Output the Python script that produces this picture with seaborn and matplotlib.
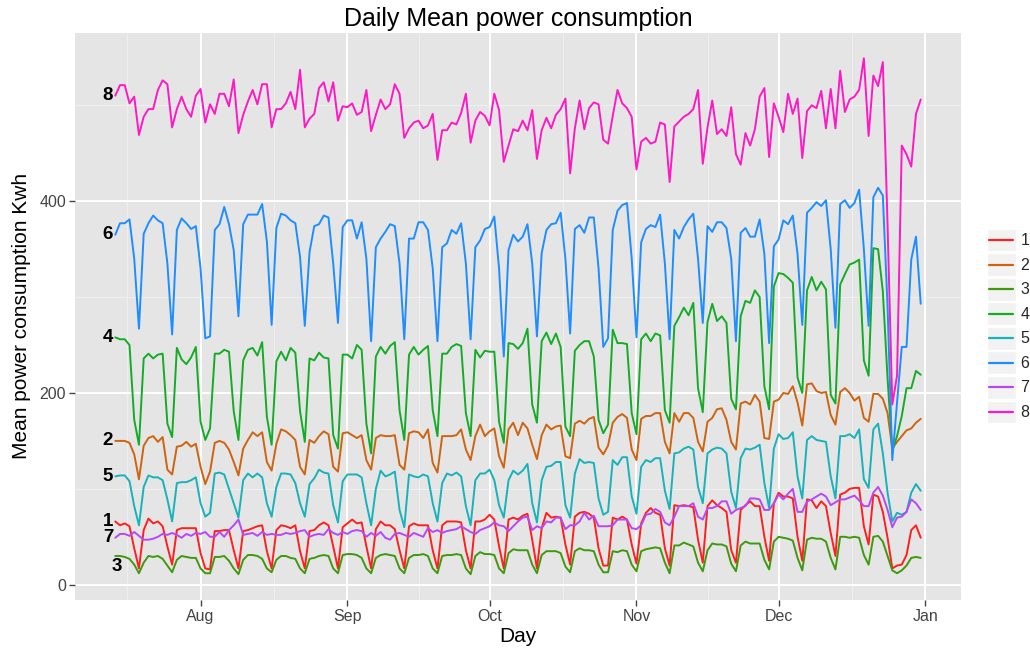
import numpy as np
import pandas as pd
import matplotlib
matplotlib.use("Agg")
import matplotlib.pyplot as plt
import matplotlib.dates as mdates
import seaborn as sns
from matplotlib.legend_handler import HandlerBase
from matplotlib.patches import Rectangle
from matplotlib.lines import Line2D

# ---------------------------------------------------------------- data
days = pd.date_range("2009-07-14", "2009-12-31", freq="D")

s1 = [66, 62, 64, 61, 38, 17, 57, 69, 64, 66, 61, 40, 21, 57, 59, 59, 59, 59, 33, 17, 16,
      56, 56, 57, 57, 36, 17, 56, 57, 59, 61, 62, 35, 17, 57, 62, 61, 59, 62, 35, 17,
      56, 57, 62, 65, 62, 40, 17, 60, 64, 68, 64, 65, 40, 17, 58, 66, 62, 62, 58, 36, 17,
      61, 64, 62, 62, 62, 36, 17, 62, 66, 66, 66, 65, 36, 17, 66, 66, 68, 73, 68, 40, 17,
      68, 70, 68,
      72, 74, 47, 17, 59, 75, 70, 71, 70, 42, 21, 71, 75, 76, 74, 70, 38, 20, 20, 70, 68,
      71, 68, 42, 22, 64, 75, 80, 75, 73, 38, 20, 83, 82, 83, 82, 81, 47, 23, 82, 88, 83,
      80, 76, 36,
      23, 78, 83, 87, 82, 82, 50, 25, 85, 96, 92, 92, 90, 50, 25, 89, 88, 80, 87, 82, 54,
      30, 94, 96, 100, 101, 101, 61, 42, 94, 92, 76, 49, 17, 20, 21, 31, 57, 62, 49]

s2 = [150, 150, 150, 148, 136, 110, 145, 153, 155, 149, 154, 120, 115, 144, 145, 149, 144,
      147, 123, 105, 118, 148, 150, 148, 141, 128, 114, 142, 151, 159, 155, 159, 128, 119,
      147, 162, 160, 156, 151, 123, 115,
      151, 148, 155, 160, 157, 123, 118, 158, 159, 156, 153, 156, 130, 120, 153, 156, 155,
      155, 156, 125, 120, 158, 160, 159, 153, 162, 127, 117, 155, 155, 155, 156, 162, 141,
      130, 155, 167, 155, 160, 163, 134, 122, 162, 169, 156,
      169, 163, 146, 131, 156, 167, 162, 165, 166, 134, 132, 168, 171, 168, 173, 175, 143,
      136, 145, 169, 175, 178, 174, 141, 130, 173, 176, 176, 179, 179, 149, 137, 179, 170,
      179, 179, 174, 149, 139, 170, 174, 183, 184, 172, 149,
      141, 189, 191, 188, 198, 191, 153, 152, 191, 193, 200, 199, 207, 190, 166, 209, 210,
      202, 200, 201, 177, 167, 201, 205, 200, 192, 196, 174, 170, 199, 199, 194, 179, 142,
      149, 155, 161, 163, 169, 173]

s3 = [30, 30, 29, 27, 21, 12, 23, 30, 29, 30, 27, 20, 13, 26, 30, 29, 28, 28, 17, 12, 12,
      29, 29, 30, 25, 17, 11, 26, 31, 31, 30, 27, 17, 13, 26, 30, 30, 28, 27, 17, 12,
      27, 28, 30, 31, 30, 17, 12, 31, 32, 32, 31, 28, 17, 12, 28, 31, 32, 31, 30, 17, 12,
      28, 31, 31, 32, 30, 17, 12, 30, 31, 31, 32, 31, 17, 11, 30, 34, 32, 32, 31, 17, 12,
      33, 37, 36,
      36, 36, 21, 12, 31, 35, 35, 35, 33, 19, 13, 35, 38, 36, 36, 35, 21, 13, 13, 35, 34,
      36, 35, 21, 14, 35, 37, 38, 39, 38, 23, 12, 41, 41, 44, 42, 40, 23, 14, 36, 43, 42,
      42, 40, 22,
      14, 41, 45, 43, 43, 43, 26, 16, 45, 50, 49, 48, 46, 28, 15, 47, 49, 48, 48, 45, 28,
      16, 50, 50, 49, 50, 49, 31, 21, 50, 51, 45, 30, 15, 12, 15, 20, 28, 29, 28]

s4 = [258, 256, 256, 250, 172, 146, 236, 241, 236, 240, 241, 168, 154, 247, 235, 230, 237,
      248, 170, 151, 163, 241, 241, 245, 243, 181, 151, 234, 245, 247, 239, 253, 175, 146,
      233, 243, 234, 247, 242, 181, 149,
      236, 234, 242, 237, 236, 156, 142, 240, 240, 236, 250, 245, 168, 137, 238, 248, 241,
      249, 253, 182, 151, 240, 248, 240, 245, 249, 182, 155, 241, 241, 248, 251, 249, 179,
      155, 245, 237, 244, 243, 243, 170, 148, 252, 251, 246,
      252, 267, 188, 169, 254, 263, 251, 262, 248, 165, 155, 244, 250, 254, 254, 238, 172,
      158, 167, 266, 252, 252, 251, 179, 157, 256, 262, 254, 262, 260, 182, 169, 270, 279,
      289, 281, 294, 205, 180, 274, 293, 275, 280, 273, 194,
      183, 280, 296, 294, 307, 300, 207, 183, 311, 325, 324, 320, 315, 216, 200, 307, 321,
      307, 316, 308, 198, 189, 313, 324, 334, 336, 339, 234, 218, 351, 350, 306, 215, 140,
      155, 176, 205, 205, 223, 219]

s5 = [113, 114, 114, 108, 82, 62, 102, 114, 112, 112, 109, 89, 66, 106, 107, 107, 109, 112,
      85, 71, 75, 116, 117, 115, 100, 85, 70, 109, 116, 112, 116, 112, 85, 71, 102, 116,
      116, 115, 106, 85, 71,
      105, 111, 120, 117, 116, 83, 65, 108, 115, 115, 115, 112, 85, 62, 100, 119, 113, 115,
      118, 78, 60, 115, 113, 112, 115, 113, 85, 66, 106, 116, 114, 117, 113, 82, 62, 109,
      116, 116, 120, 109, 83, 70, 109, 119, 115,
      119, 126, 85, 65, 109, 123, 124, 128, 128, 83, 70, 116, 131, 127, 128, 127, 90, 73,
      76, 130, 125, 133, 133, 92, 74, 123, 130, 128, 132, 132, 98, 79, 137, 138, 142, 144,
      141, 102, 85, 137, 141, 143, 142, 137, 97,
      80, 132, 142, 141, 143, 146, 106, 80, 142, 157, 152, 153, 159, 113, 90, 151, 155, 151,
      150, 149, 113, 90, 155, 155, 157, 153, 162, 110, 101, 162, 168, 137, 96, 66, 75, 73,
      76, 96, 105, 98]

s6 = [365, 377, 377, 381, 340, 267, 366, 377, 385, 380, 377, 335, 261, 370, 382, 377, 371,
      374, 330, 257, 259, 370, 376, 394, 376, 349, 280, 376, 386, 386, 386, 397, 358, 271,
      372, 387, 385, 380, 377, 342, 270,
      347, 374, 376, 385, 383, 335, 273, 373, 380, 380, 361, 378, 340, 254, 352, 361, 368,
      376, 374, 335, 256, 361, 361, 378, 378, 370, 330, 254, 352, 356, 370, 366, 377, 335,
      256, 352, 359, 371, 373, 384, 330, 238, 349, 365, 358,
      363, 376, 335, 259, 346, 370, 376, 377, 388, 340, 262, 371, 375, 367, 383, 383, 330,
      248, 257, 370, 390, 396, 398, 340, 258, 357, 371, 375, 373, 386, 335, 256, 370, 361,
      373, 381, 387, 340, 273, 374, 368, 378, 378, 372, 340,
      254, 367, 372, 363, 363, 381, 345, 252, 353, 360, 380, 376, 385, 345, 271, 388, 393,
      399, 395, 401, 350, 268, 397, 401, 393, 398, 412, 350, 270, 404, 414, 406, 290, 130,
      190, 248, 248, 339, 363, 293]

s7 = [49, 53, 53, 51, 55, 51, 47, 47, 48, 50, 53, 52, 54, 52, 49, 53, 51, 54, 53, 55, 50,
      50, 55, 50, 57, 62, 68, 52, 53, 54, 51, 55, 52, 53, 52, 52, 54, 53, 54, 56, 57,
      50, 52, 53, 52, 58, 54, 52, 55, 53, 56, 57, 56, 50, 54, 51, 55, 49, 47, 53, 54, 52,
      50, 54, 52, 50, 59, 55, 57, 54, 56, 57, 58, 61, 58, 55, 53, 57, 59, 61, 65, 62, 61,
      56, 61, 66,
      70, 71, 57, 61, 59, 66, 65, 70, 70, 58, 62, 62, 66, 75, 68, 72, 61, 61, 61, 62, 68,
      68, 68, 59, 58, 62, 73, 74, 79, 76, 65, 62, 71, 82, 82, 82, 85, 71, 68, 80, 80, 82,
      87, 87, 74,
      78, 80, 82, 90, 90, 89, 78, 78, 85, 94, 89, 95, 100, 76, 76, 87, 89, 92, 95, 92, 83,
      86, 89, 89, 91, 93, 88, 82, 82, 96, 102, 93, 78, 60, 70, 71, 76, 89, 85, 78]

s8 = [510, 521, 521, 502, 509, 469, 488, 496, 496, 516, 526, 522, 477, 496, 509, 496, 488,
      510, 517, 482, 501, 491, 512, 512, 499, 527, 471, 490, 504, 516, 501, 522, 522, 477,
      496, 496, 502, 514, 496, 537, 477,
      486, 491, 518, 524, 504, 524, 484, 499, 498, 502, 490, 493, 516, 473, 490, 506, 496,
      501, 522, 512, 466, 476, 482, 484, 476, 479, 491, 443, 474, 474, 482, 480, 492, 512,
      461, 484, 493, 489, 479, 512, 495, 441, 458, 475, 473,
      484, 474, 495, 444, 474, 487, 476, 490, 496, 507, 429, 476, 505, 475, 497, 503, 501,
      464, 460, 489, 516, 502, 497, 488, 433, 462, 466, 460, 462, 482, 480, 420, 478, 483,
      488, 491, 496, 516, 439, 477, 505, 470, 475, 468, 498,
      449, 438, 471, 458, 475, 509, 518, 446, 502, 488, 472, 512, 491, 507, 445, 494, 500,
      497, 515, 476, 517, 476, 536, 493, 506, 509, 516, 549, 468, 531, 520, 545, 375, 188,
      218, 458, 449, 436, 491, 506]

names = ["1", "2", "3", "4", "5", "6", "7", "8"]
values = [s1, s2, s3, s4, s5, s6, s7, s8]
colors = ["#FF1F1F", "#CC6410", "#3E9A0C", "#14AC26", "#17B2BA", "#1E8EFF", "#B848F4", "#FF19C4"]
palette = dict(zip(names, colors))

for v in values:
    assert len(v) == len(days)

df = pd.DataFrame({
    "Day": np.tile(days.values, len(names)),
    "kwh": np.concatenate([np.asarray(v, dtype=float) for v in values]),
    "meter": np.repeat(names, len(days)),
})

# ---------------------------------------------------------------- style
sns.set_style("darkgrid", rc={
    "axes.facecolor": "#E5E5E5",
    "grid.color": "white",
    "axes.edgecolor": "#E5E5E5",
})
plt.rcParams["font.family"] = ["Liberation Sans", "DejaVu Sans"]

W, H = 1030, 657
fig = plt.figure(figsize=(W / 100, H / 100), dpi=100, facecolor="white")
ax = fig.add_axes([75 / W, 1 - 600 / H, (961 - 75) / W, (600 - 32.5) / H])

sns.lineplot(data=df, x="Day", y="kwh", hue="meter", palette=palette,
             linewidth=1.4, estimator=None, legend=False, ax=ax)

# axis ranges with a 5% margin on each side
x0, x1 = mdates.date2num(days[0]), mdates.date2num(days[-1])
ax.set_xlim(x0 - 0.05 * (x1 - x0), x1 + 0.05 * (x1 - x0))
lo, hi = df["kwh"].min(), df["kwh"].max()
ax.set_ylim(lo - 0.05 * (hi - lo), hi + 0.05 * (hi - lo))

# month ticks with mid-month minor grid
month_starts = pd.date_range("2009-06-01", "2010-02-01", freq="MS")
ms = mdates.date2num(month_starts)
ax.xaxis.set_major_locator(mdates.MonthLocator())
ax.xaxis.set_major_formatter(mdates.DateFormatter("%b"))
ax.xaxis.set_minor_locator(matplotlib.ticker.FixedLocator((ms[:-1] + ms[1:]) / 2))
ax.yaxis.set_major_locator(matplotlib.ticker.FixedLocator([0, 200, 400]))
ax.yaxis.set_minor_locator(matplotlib.ticker.FixedLocator([100, 300, 500]))

ax.grid(which="major", color="white", linewidth=1.4)
ax.grid(which="minor", color="#F0F0F0", linewidth=0.7)
for sp in ax.spines.values():
    sp.set_visible(False)

ax.tick_params(axis="both", which="major", length=4.3, width=1.0, color="#444444",
               labelcolor="#444444", labelsize=11.5, pad=2, bottom=True, left=True)
ax.tick_params(axis="both", which="minor", length=0)

ax.set_xlabel("Day", fontsize=15, color="black", labelpad=2)
ax.set_ylabel("Mean power consumption Kwh", fontsize=15, color="black", labelpad=6)
ax.set_title("Daily Mean power consumption", fontsize=18, color="black", pad=5)

# series names written at the start of each line
label_offsets = {"3": (4.5, -7.5)}
for name, v in zip(names, values):
    dx, dy = label_offsets.get(name, (-1.5, 0))
    ax.annotate(name, xy=(days[0], v[0]), xytext=(dx, dy), textcoords="offset points",
                ha="right", va="center", fontsize=13.5, fontweight="bold", color="black")


# legend keys drawn on a light grey square
class KeyHandler(HandlerBase):
    def create_artists(self, legend, orig_handle, xdescent, ydescent,
                       width, height, fontsize, trans):
        box = Rectangle((-xdescent, -ydescent), width, height, facecolor="#F2F2F2",
                        edgecolor="white", linewidth=1.0, transform=trans)
        yc = -ydescent + height / 2
        line = Line2D([-xdescent + 0.08 * width, -xdescent + 0.92 * width], [yc, yc],
                      color=orig_handle.get_color(), linewidth=orig_handle.get_linewidth(),
                      transform=trans)
        return [box, line]


handles = [Line2D([], [], color=palette[n], linewidth=1.6) for n in names]
fig.legend(handles, names, loc="center left", bbox_to_anchor=(987 / W, 1 - 326 / H),
           frameon=False, fontsize=11.5, handlelength=1.8, handleheight=1.8,
           labelspacing=0.12, handletextpad=0.3, borderpad=0, borderaxespad=0,
           handler_map={Line2D: KeyHandler()})

fig.savefig("out.png", dpi=100, facecolor="white")
